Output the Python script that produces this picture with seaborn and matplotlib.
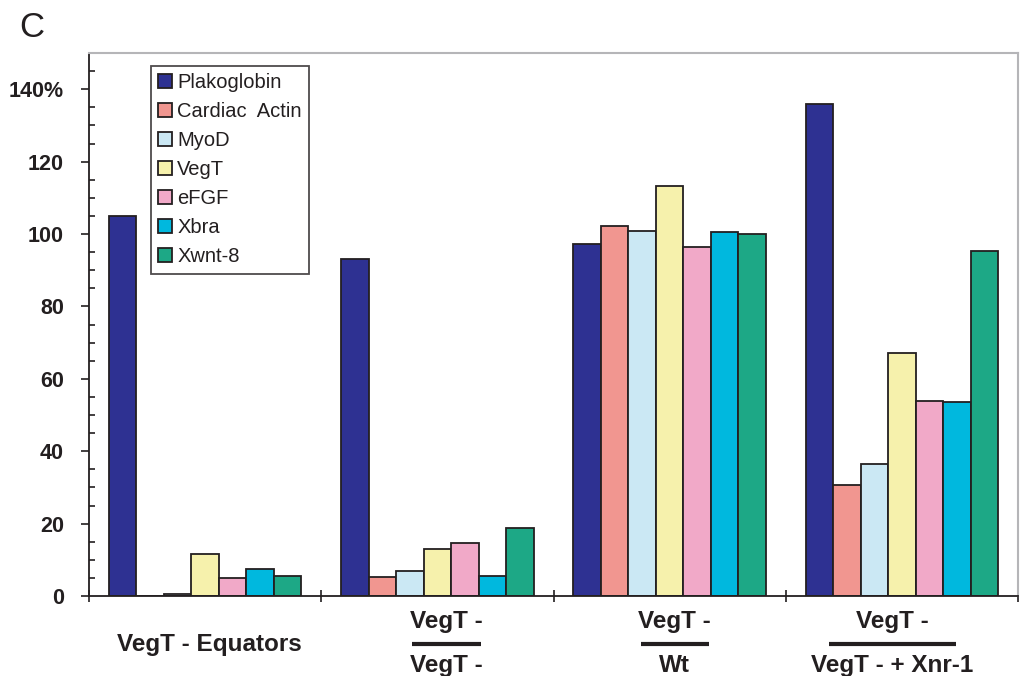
import matplotlib
matplotlib.use("Agg")
import matplotlib.pyplot as plt
import matplotlib.transforms as mtransforms
from matplotlib.ticker import MultipleLocator, FixedLocator
import numpy as np
import pandas as pd
import seaborn as sns

# Relative expression (% of control) per marker gene in each explant condition
groups = ["VegT - Equators", "VegT - / VegT -", "VegT - / Wt", "VegT - / VegT - + Xnr-1"]
genes = ["Plakoglobin", "Cardiac  Actin", "MyoD", "VegT", "eFGF", "Xbra", "Xwnt-8"]

plakoglobin = [104.9, 93.2, 97.2, 135.8]
cardiac_actin = [0.0, 5.3, 102.2, 30.8]
myod = [0.5, 7.0, 100.9, 36.5]
vegt = [11.6, 13.0, 113.3, 67.0]
efgf = [5.0, 14.6, 96.3, 54.0]
xbra = [7.5, 5.6, 100.5, 53.6]
xwnt8 = [5.6, 18.9, 100.1, 95.4]

# Two-line group captions (numerator over a bar, denominator below)
label_top = ["VegT - Equators", "VegT -", "VegT -", "VegT -"]
label_bottom = [None, "VegT -", "Wt", "VegT - + Xnr-1"]

y_ticks = [0, 20, 40, 60, 80, 100, 120, 140]
y_tick_labels = ["0", "20", "40", "60", "80", "100", "120", "140%"]

colors = ["#2E3192", "#F19690", "#CBE8F4", "#F6F1AC", "#F1A9C8", "#00B8DE", "#1DA886"]

series = [plakoglobin, cardiac_actin, myod, vegt, efgf, xbra, xwnt8]
df = pd.DataFrame(
    [(g, gene, vals[i]) for gene, vals in zip(genes, series) for i, g in enumerate(groups)],
    columns=["group", "gene", "value"],
)

sns.set_style("ticks")
plt.rcParams["font.family"] = ["Liberation Sans", "DejaVu Sans"]

fig = plt.figure(figsize=(10.25, 6.76), dpi=100)
ax = fig.add_axes([0.0868, 0.1183, 0.9064, 0.8033])

sns.barplot(
    data=df, x="group", y="value", hue="gene",
    order=groups, hue_order=genes, palette=colors, saturation=1,
    width=0.83, edgecolor="#231F20", linewidth=1.3,
    errorbar=None, ax=ax,
)

ax.set_xlim(-0.5, len(groups) - 0.5)
ax.set_ylim(0, 150)
ax.set_xlabel("")
ax.set_ylabel("")

# y axis: bold labels, outward majors, inward minors every 5
ax.set_yticks(y_ticks)
ax.set_yticklabels(y_tick_labels, fontsize=15.5, fontweight="bold", color="#231F20")
ax.yaxis.set_minor_locator(MultipleLocator(5))
ax.tick_params(axis="y", which="major", direction="out", length=6, width=1.2,
               color="#231F20", pad=12)
ax.tick_params(axis="y", which="minor", direction="in", length=4, width=1.2,
               color="#231F20", left=True)

# x axis: tick marks at group boundaries only
ax.xaxis.set_major_locator(FixedLocator(np.arange(-0.5, len(groups), 1.0)))
ax.set_xticklabels([])
ax.tick_params(axis="x", which="major", direction="inout", length=9, width=1.2,
               color="#231F20")

for side in ("left", "bottom"):
    ax.spines[side].set_color("#231F20")
    ax.spines[side].set_linewidth(1.3)
for side in ("top", "right"):
    ax.spines[side].set_visible(True)
    ax.spines[side].set_color("#B5B5B8")
    ax.spines[side].set_linewidth(1.5)

# Group captions drawn below the axis
trans = mtransforms.blended_transform_factory(ax.transData, ax.transAxes)
rule_spans = [None, (0.889, 1.190), (1.875, 2.170), (2.687, 3.233)]
label_x = [0.02, 1.04, 2.02, 2.96]
for i, (top, bottom) in enumerate(zip(label_top, label_bottom)):
    if bottom is None:
        ax.text(label_x[i], -0.090, top, transform=trans, ha="center", va="center",
                fontsize=17.5, fontweight="bold", color="#231F20")
    else:
        ax.text(label_x[i], -0.046, top, transform=trans, ha="center", va="center",
                fontsize=17.5, fontweight="bold", color="#231F20")
        ax.text(label_x[i], -0.128, bottom, transform=trans, ha="center", va="center",
                fontsize=17.5, fontweight="bold", color="#231F20")
        x0, x1 = rule_spans[i]
        ax.plot([x0, x1], [-0.0885, -0.0885], transform=trans, color="#231F20",
                lw=3, clip_on=False, solid_capstyle="butt")

# Legend box
handles, labels = ax.get_legend_handles_labels()
leg = ax.legend(
    handles, labels, loc="upper left", bbox_to_anchor=(0.067, 0.976),
    borderaxespad=0, frameon=True, fancybox=False, shadow=False,
    fontsize=14.5, handlelength=0.7, handleheight=0.7, handletextpad=0.25,
    labelspacing=0.5, borderpad=0.35, title=None,
)
leg.get_frame().set_edgecolor("#231F20")
leg.get_frame().set_linewidth(1.3)
for t in leg.get_texts():
    t.set_color("#231F20")

# Panel letter
fig.text(0.0185, 0.945, "C", fontsize=25, color="#231F20", ha="left", va="baseline")

fig.savefig("out.png", dpi=100, facecolor="white")
